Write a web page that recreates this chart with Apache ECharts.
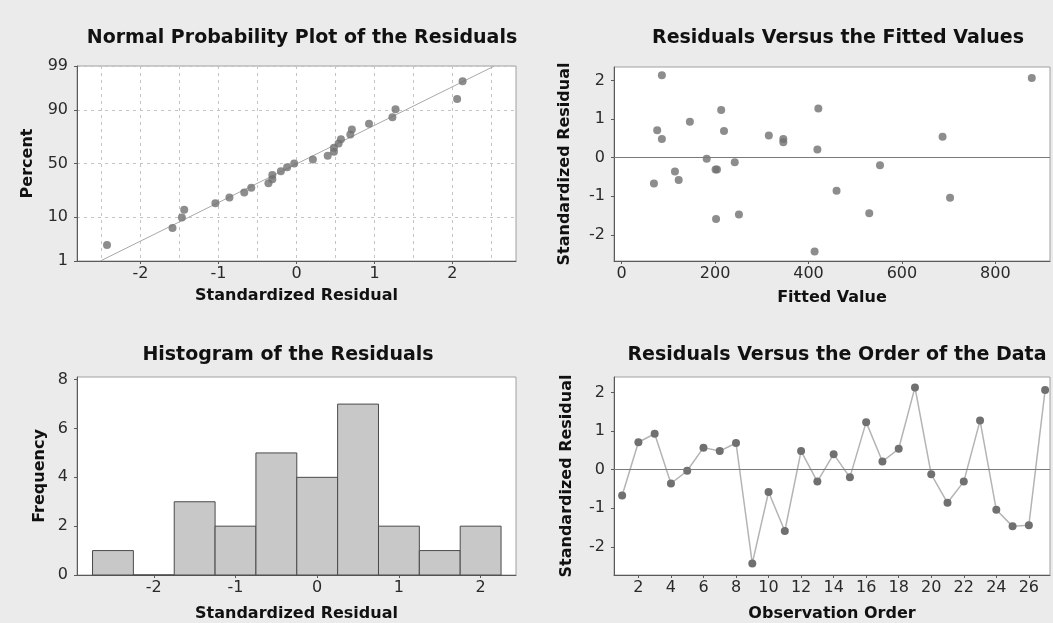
<!DOCTYPE html>
<html><head><meta charset="utf-8">
<script src="https://cdn.jsdelivr.net/npm/echarts@6/dist/echarts.min.js"></script>
<style>html,body{margin:0;padding:0;background:#ebebeb}#c{width:1053px;height:623px}</style>
</head><body><div id="c"></div>
<script>
// ---- data ----
const observationOrder = [1,2,3,4,5,6,7,8,9,10,11,12,13,14,15,16,17,18,19,20,21,22,23,24,25,26,27];
const residuals = [-0.67,0.71,0.93,-0.36,-0.03,0.57,0.48,0.69,-2.43,-0.58,-1.59,0.48,-0.31,0.40,-0.20,1.23,0.21,0.54,2.13,-0.12,-0.86,-0.31,1.27,-1.04,-1.47,-1.44,2.06];
const fittedValues = [69,76,146,114,182,315,86,219,413,122,202,346,201,346,553,213,419,687,86,242,460,204,421,703,251,530,878];
const probPercent = [2.6,6.2,9.9,13.5,17.2,20.8,24.5,28.1,31.8,35.4,39.1,42.7,46.4,50.0,53.7,57.3,61.0,64.6,68.3,71.9,75.6,79.2,82.9,86.5,90.2,93.8,97.5];
const probTickLabels = [1,10,50,90,99];
const residTickLabels = [-2,-1,0,1,2];
const residGridLines = [-2.5,-2,-1.5,-1,-0.5,0,0.5,1,1.5,2,2.5];
const fittedTickLabels = [0,200,400,600,800];
const histBinCenters = [-2.5,-2,-1.5,-1,-0.5,0,0.5,1,1.5,2];
const histFrequency = [1,0,3,2,5,4,7,2,1,2];
const histBinWidth = 0.5;
const freqTickLabels = [0,2,4,6,8];
const orderTickLabels = [2,4,6,8,10,12,14,16,18,20,22,24,26];
const referenceLevel = 0;

// inverse standard normal (Acklam)
function normInv(p){
  const a=[-3.969683028665376e+01,2.209460984245205e+02,-2.759285104469687e+02,1.383577518672690e+02,-3.066479806614716e+01,2.506628277459239e+00];
  const b=[-5.447609879822406e+01,1.615858368580409e+02,-1.556989798598866e+02,6.680131188771972e+01,-1.328068155288572e+01];
  const c=[-7.784894002430293e-03,-3.223964580411365e-01,-2.400758277161838e+00,-2.549732539343734e+00,4.374664141464968e+00,2.938163982698783e+00];
  const d=[7.784695709041462e-03,3.224671290700398e-01,2.445134137142996e+00,3.754408661907416e+00];
  const pl=0.02425, ph=1-pl; let q,r;
  if(p<pl){q=Math.sqrt(-2*Math.log(p));return (((((c[0]*q+c[1])*q+c[2])*q+c[3])*q+c[4])*q+c[5])/((((d[0]*q+d[1])*q+d[2])*q+d[3])*q+1);}
  if(p<=ph){q=p-0.5;r=q*q;return (((((a[0]*r+a[1])*r+a[2])*r+a[3])*r+a[4])*r+a[5])*q/(((((b[0]*r+b[1])*r+b[2])*r+b[3])*r+b[4])*r+1);}
  q=Math.sqrt(-2*Math.log(1-p));return -(((((c[0]*q+c[1])*q+c[2])*q+c[3])*q+c[4])*q+c[5])/((((d[0]*q+d[1])*q+d[2])*q+d[3])*q+1);
}
const zTicks = probTickLabels.map(p => normInv(p/100));
const zMin = zTicks[0], zMax = zTicks[zTicks.length-1];
const sortedRes = residuals.slice().sort((x,y)=>x-y);
const probPoints = sortedRes.map((v,i)=>[v, normInv(probPercent[i]/100)]);
const n = residuals.length;
const mu = residuals.reduce((s,v)=>s+v,0)/n;
const sd = Math.sqrt(residuals.reduce((s,v)=>s+(v-mu)*(v-mu),0)/(n-1));
const fitLine = [[mu+sd*zMin, zMin],[mu+sd*zMax, zMax]];

const FONT = 'DejaVu Sans';
const AX = '#5a5a5a';
function axis(extra){
  return Object.assign({
    type:'value', nameLocation:'middle',
    nameTextStyle:{color:'#111', fontSize:16, fontWeight:'bold', fontFamily:FONT},
    axisLine:{show:true, onZero:false, lineStyle:{color:AX, width:1}},
    axisTick:{show:true, length:3, lineStyle:{color:AX}},
    axisLabel:{color:'#2a2a2a', fontSize:16, fontFamily:FONT},
    splitLine:{show:false}
  }, extra);
}
function ticks(vals, margin, fmt){
  const o = {axisLabel:{color:'#2a2a2a', fontSize:16, fontFamily:FONT, margin:margin, customValues:vals, showMinLabel:true, showMaxLabel:true},
             axisTick:{show:true, length:3, lineStyle:{color:AX}, customValues:vals}};
  if (fmt) o.axisLabel.formatter = fmt;
  return o;
}
const gridStyle = {show:true, backgroundColor:'#ffffff', borderColor:'#a0a0a0', borderWidth:1, containLabel:false};
const titleStyle = {color:'#111', fontSize:19, fontWeight:'bold', fontFamily:FONT};
const dotColor = '#707070';

const chart = echarts.init(document.getElementById('c'), null, {renderer:'canvas'});
chart.setOption({
  backgroundColor:'#ebebeb',
  animation:false,
  title:[
    {text:'Normal Probability Plot of the Residuals', left:297, top:24, textAlign:'center', textStyle:titleStyle},
    {text:'Residuals Versus the Fitted Values', left:833, top:24, textAlign:'center', textStyle:titleStyle},
    {text:'Histogram of the Residuals', left:283, top:341, textAlign:'center', textStyle:titleStyle},
    {text:'Residuals Versus the Order of the Data', left:832, top:341, textAlign:'center', textStyle:titleStyle}
  ],
  grid:[
    Object.assign({left:77, top:66, width:439, height:195}, gridStyle),
    Object.assign({left:614, top:67, width:436, height:194}, gridStyle),
    Object.assign({left:77, top:377, width:439, height:199}, gridStyle),
    Object.assign({left:614, top:377, width:436, height:199}, gridStyle)
  ],
  xAxis:[
    axis(Object.assign({gridIndex:0, min:-2.815, max:2.815, name:'Standardized Residual', nameGap:27}, ticks(residTickLabels, 5))),
    axis({gridIndex:1, min:-16.5, max:917, name:'Fitted Value', nameGap:29, ...ticks(fittedTickLabels, 5)}),
    axis({gridIndex:2, min:-2.94, max:2.433, name:'Standardized Residual', nameGap:31, ...ticks(residTickLabels, 5)}),
    axis({gridIndex:3, min:0.5, max:27.3, name:'Observation Order', nameGap:31, ...ticks(orderTickLabels, 5)}),
    // gridline-only axis for the probability plot
    {type:'value', gridIndex:0, position:'bottom', min:-2.815, max:2.815,
     axisLine:{show:false}, axisLabel:{show:false},
     axisTick:{show:false, customValues:residGridLines},
     splitLine:{show:true, lineStyle:{color:'#c4c4c4', type:[3,4], width:1}}}
  ],
  yAxis:[
    axis(Object.assign({gridIndex:0, min:zMin, max:zMax, name:'Percent', nameGap:41}, ticks(zTicks, 9, v => {
      let best = 0; zTicks.forEach((z,i)=>{ if (Math.abs(z-v) < Math.abs(zTicks[best]-v)) best = i; });
      return String(probTickLabels[best]);
    }), {splitLine:{show:true, lineStyle:{color:'#c4c4c4', type:[3,4], width:1}}})),
    axis({gridIndex:1, min:-2.675, max:2.346, name:'Standardized Residual', nameGap:41, ...ticks(residTickLabels, 9)}),
    axis({gridIndex:2, min:0, max:8.11, name:'Frequency', nameGap:29, ...ticks(freqTickLabels, 9)}),
    axis({gridIndex:3, min:-2.73, max:2.40, name:'Standardized Residual', nameGap:39, ...ticks(residTickLabels, 9)})
  ],
  series:[
    {type:'line', xAxisIndex:0, yAxisIndex:0, data:fitLine, showSymbol:false, symbol:'none',
     lineStyle:{color:'#a8a8a8', width:1}, silent:true, z:2},
    {type:'scatter', xAxisIndex:0, yAxisIndex:0, data:probPoints, symbolSize:8,
     itemStyle:{color:dotColor}, z:3},
    {type:'scatter', xAxisIndex:1, yAxisIndex:1, data:fittedValues.map((f,i)=>[f, residuals[i]]), symbolSize:8,
     itemStyle:{color:dotColor}, z:3,
     markLine:{silent:true, symbol:'none', label:{show:false}, lineStyle:{color:'#7a7a7a', type:'solid', width:1},
               data:[{yAxis:referenceLevel}]}},
    {type:'custom', xAxisIndex:2, yAxisIndex:2,
     data:histBinCenters.map((c,i)=>[c, histFrequency[i]]),
     renderItem:function(params, api){
       const c = api.value(0), f = api.value(1);
       const p0 = api.coord([c - histBinWidth/2, f]);
       const p1 = api.coord([c + histBinWidth/2, 0]);
       return {type:'rect', shape:{x:p0[0], y:p0[1], width:p1[0]-p0[0], height:p1[1]-p0[1]},
               style:{fill:'#c8c8c8', stroke:'#4a4a4a', lineWidth:1}};
     }},
    {type:'line', xAxisIndex:3, yAxisIndex:3, data:observationOrder.map((o,i)=>[o, residuals[i]]),
     symbol:'circle', symbolSize:8, showSymbol:true,
     itemStyle:{color:dotColor}, lineStyle:{color:'#b4b4b4', width:1.5}, z:3,
     markLine:{silent:true, symbol:'none', label:{show:false}, lineStyle:{color:'#7a7a7a', type:'solid', width:1},
               data:[{yAxis:referenceLevel}]}}
  ]
});
</script></body></html>
